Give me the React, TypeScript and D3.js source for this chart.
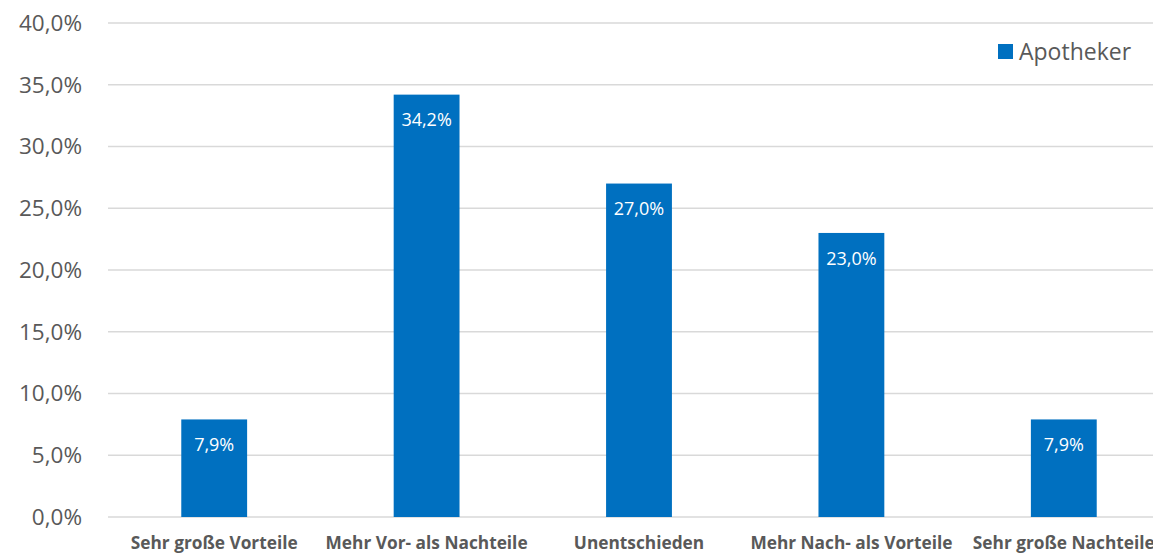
import React from "react";
import * as d3 from "d3";

const categories = [
  "Sehr große Vorteile",
  "Mehr Vor- als Nachteile",
  "Unentschieden",
  "Mehr Nach- als Vorteile",
  "Sehr große Nachteile",
];
const values = [7.9, 34.2, 27.0, 23.0, 7.9];
const yTicks = [0, 5, 10, 15, 20, 25, 30, 35, 40];
const seriesName = "Apotheker";

const W = 1153;
const H = 555;
const FONT = "'Open Sans', sans-serif";
const fmt = (v: number) => v.toFixed(1).replace(".", ",") + "%";

export default function App() {
  const x = d3.scaleBand<string>().domain(categories).range([108, 1170]).paddingInner(0.69).paddingOuter(0.345);
  const y = d3.scaleLinear().domain([0, 40]).range([517, 23]);
  return (
    <svg width={W} height={H} style={{ position: "absolute", left: 0, top: 0, background: "#fff" }}>
      {yTicks.map((t) => (
        <g key={t}>
          <line x1={108} x2={1170} y1={y(t)} y2={y(t)} stroke="#D9D9D9" strokeWidth={1.3} />
          <text x={82} y={y(t)} dy="0.35em" textAnchor="end" fontFamily={FONT} fontSize={22.5} fill="#595959">
            {fmt(t)}
          </text>
        </g>
      ))}
      {categories.map((c, i) => (
        <g key={c}>
          <rect x={x(c)} y={y(values[i])} width={x.bandwidth()} height={y(0) - y(values[i])} fill="#0070C0" />
          <text
            x={(x(c) as number) + x.bandwidth() / 2}
            y={y(values[i]) + 25.5}
            dy="0.35em"
            textAnchor="middle"
            fontFamily={FONT}
            fontSize={18}
            fill="#ffffff"
          >
            {fmt(values[i])}
          </text>
          <text
            x={(x(c) as number) + x.bandwidth() / 2}
            y={543}
            dy="0.35em"
            textAnchor="middle"
            fontFamily={FONT}
            fontSize={17.3}
            fontWeight="bold"
            fill="#595959"
          >
            {c}
          </text>
        </g>
      ))}
      <rect x={998} y={44} width={15} height={15} fill="#0070C0" />
      <text x={1019} y={51.5} dy="0.35em" fontFamily={FONT} fontSize={23} fill="#595959">
        {seriesName}
      </text>
    </svg>
  );
}
